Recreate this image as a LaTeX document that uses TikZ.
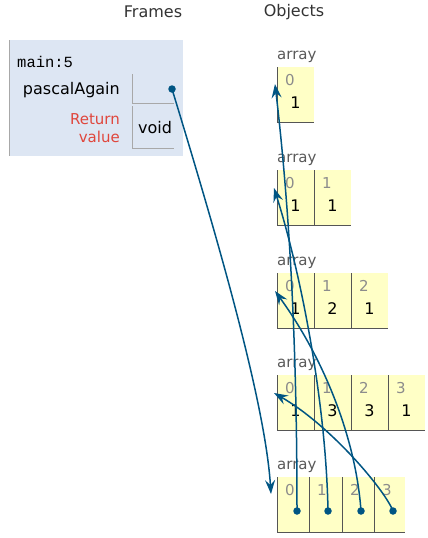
\documentclass[tikz,border=0pt]{standalone}
\usepackage{fontspec}
\setmainfont{DejaVu Sans}
\newfontfamily\codefont{Liberation Mono}
\usetikzlibrary{arrows.meta}
\definecolor{framebg}{HTML}{DDE6F3}
\definecolor{cellbg}{HTML}{FFFFC6}
\definecolor{ptrblue}{HTML}{005583}
\definecolor{retred}{HTML}{E0463C}
\definecolor{idxgray}{HTML}{8C8C8C}
\definecolor{boxgray}{HTML}{A8A8A8}
\definecolor{celledge}{HTML}{555555}
\begin{document}
\begin{tikzpicture}[x=1pt,y=-1pt,inner sep=0pt,
  txt/.style={font=\fontsize{16}{19}\selectfont},
  typelbl/.style={anchor=west,color=black!65,font=\fontsize{15}{17}\selectfont},
  idx/.style={anchor=west,color=idxgray,font=\fontsize{15}{17}\selectfont},
  val/.style={font=\fontsize{16}{19}\selectfont},
  dot/.style={circle,fill=ptrblue,minimum size=7.5pt},
  ptr/.style={draw=ptrblue,line width=1.5pt,-{Stealth[length=14pt,width=10pt,inset=5pt]}}]

\useasboundingbox (0,0) rectangle (428,538);

\node(fr) at (153,12) [txt,color=black!80] {Frames};
\node(ob) at (294,12) [txt,color=black!80] {Objects};

% stack frame
\fill[framebg] (9,40) rectangle (183,156);
\draw[boxgray] (9,40) -- (9,156);
\draw[boxgray] (132,74) -- (132,103) -- (174,103);
\draw[boxgray] (132,106) -- (132,148) -- (174,148);
\node(m) at (17,62) [anchor=west,font=\codefont\fontsize{15.5}{18}\selectfont] {main:5};
\node(pa) at (120,90) [txt,anchor=east] {pascalAgain};
\node(rv) at (120,128) [txt,anchor=east,align=right,color=retred,font=\fontsize{15}{18}\selectfont] {Return\\value};
\node(vd) at (155,128) [txt] {void};
\node(p) at (172,89) [dot] {};

% array of length 1
\fill[cellbg] (277,67) rectangle (314,122);
\draw[celledge] (277,67) -- (277,122) -- (314,122);
\node(l1) at (277,57) [typelbl] {array};
\node at (285,80) [idx] {0};
\node at (295.5,103) [val] {1};

% array of length 2
\fill[cellbg] (277,170) rectangle (351,225);
\draw[celledge] (277,170) -- (277,225) -- (351,225);
\draw[celledge] (314,170) -- (314,225);
\node(l2) at (277,160) [typelbl] {array};
\node at (285,183) [idx] {0};
\node at (322,183) [idx] {1};
\node at (295.5,206) [val] {1};
\node at (332.5,206) [val] {1};

% array of length 3
\fill[cellbg] (277,273) rectangle (388,328);
\draw[celledge] (277,273) -- (277,328) -- (388,328);
\draw[celledge] (314,273) -- (314,328);
\draw[celledge] (351,273) -- (351,328);
\node(l3) at (277,263) [typelbl] {array};
\node at (285,286) [idx] {0};
\node at (322,286) [idx] {1};
\node at (359,286) [idx] {2};
\node at (295.5,309) [val] {1};
\node at (332.5,309) [val] {2};
\node at (369.5,309) [val] {1};

% array of length 4
\fill[cellbg] (277,375) rectangle (425,430);
\draw[celledge] (277,375) -- (277,430) -- (425,430);
\draw[celledge] (314,375) -- (314,430);
\draw[celledge] (351,375) -- (351,430);
\draw[celledge] (388,375) -- (388,430);
\node(l4) at (277,365) [typelbl] {array};
\node at (285,388) [idx] {0};
\node at (322,388) [idx] {1};
\node at (359,388) [idx] {2};
\node at (396,388) [idx] {3};
\node at (295.5,411) [val] {1};
\node at (332.5,411) [val] {3};
\node at (369.5,411) [val] {3};
\node at (406.5,411) [val] {1};

% outer array of references
\fill[cellbg] (277,477) rectangle (405,532);
\draw[celledge] (277,477) -- (277,532) -- (405,532);
\draw[celledge] (309,477) -- (309,532);
\draw[celledge] (342,477) -- (342,532);
\draw[celledge] (374,477) -- (374,532);
\node(l5) at (277,467) [typelbl] {array};
\node at (285,490) [idx] {0};
\node at (317,490) [idx] {1};
\node at (350,490) [idx] {2};
\node at (382,490) [idx] {3};
\node(d0) at (297,511) [dot] {};
\node(d1) at (328,511) [dot] {};
\node(d2) at (361,511) [dot] {};
\node(d3) at (393,511) [dot] {};

\coordinate(a1) at (275,84);
\coordinate(a2) at (274,188);
\coordinate(a3) at (275,291);
\coordinate(a4) at (274,393);
\coordinate(a5) at (271,494);

\draw[ptr] (p.center) .. controls (215,230) and (265,400) .. (a5);
\draw[ptr] (d0.center) .. controls (297,300) and (285,170) .. (a1);
\draw[ptr] (d1.center) .. controls (326,400) and (300,270) .. (a2);
\draw[ptr] (d2.center) .. controls (356,440) and (325,360) .. (a3);
\draw[ptr] (d3.center) .. controls (385,490) and (330,425) .. (a4);

\end{tikzpicture}
\end{document}
